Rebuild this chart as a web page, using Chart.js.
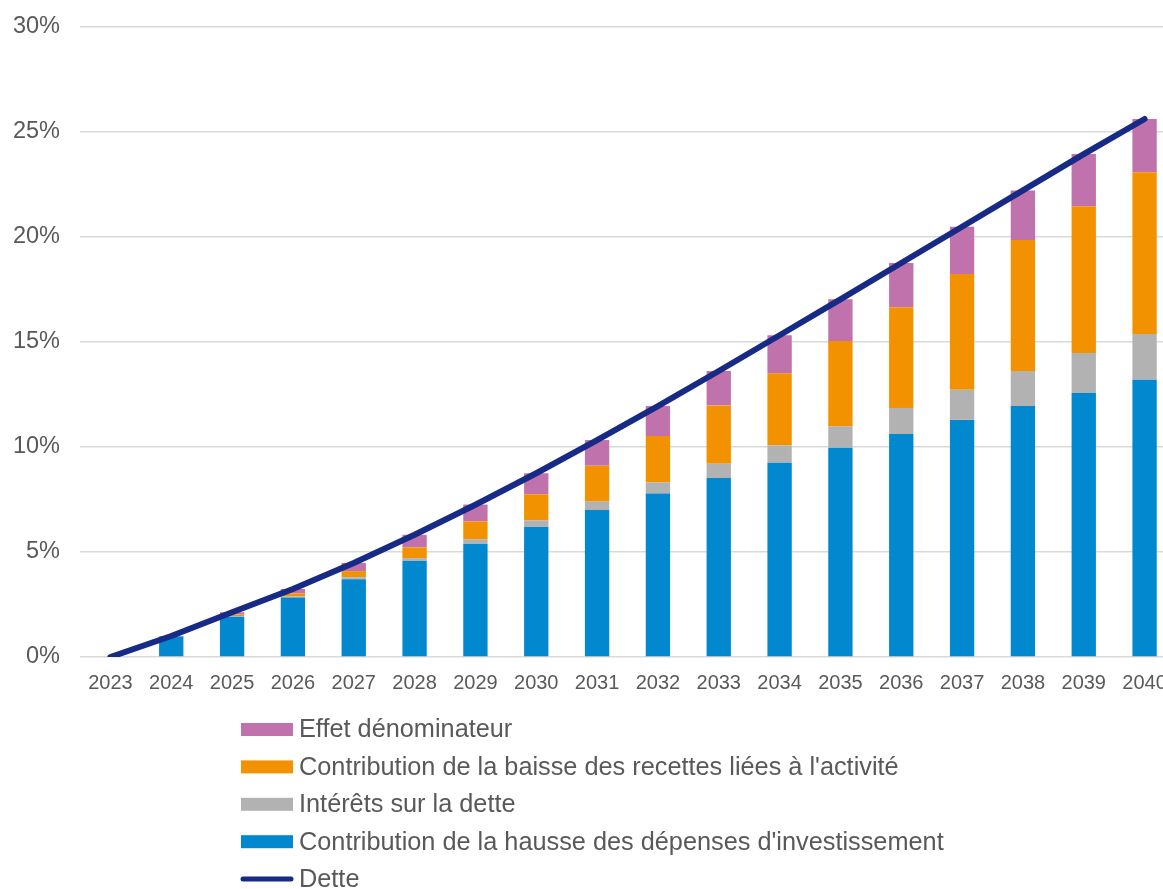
<!DOCTYPE html>
<html>
<head>
<meta charset="utf-8">
<script src="https://cdn.jsdelivr.net/npm/chart.js@4/dist/chart.umd.min.js"></script>
<style>
  html, body { margin: 0; padding: 0; overflow: hidden; background: #fff; }
  #wrap { position: relative; width: 1175px; height: 889px; }
  canvas { display: block; }
</style>
</head>
<body>
<div id="wrap"><canvas id="c" width="1175" height="889"></canvas></div>
<script>
const categories = ['2023','2024','2025','2026','2027','2028','2029','2030','2031','2032','2033','2034','2035','2036','2037','2038','2039','2040'];
const investissement = [0, 0.97, 1.92, 2.83, 3.70, 4.57, 5.38, 6.19, 7.00, 7.78, 8.52, 9.25, 9.97, 10.62, 11.29, 11.95, 12.57, 13.20];
const interets = [0, 0, 0.03, 0.05, 0.10, 0.14, 0.23, 0.32, 0.41, 0.54, 0.68, 0.83, 1.02, 1.24, 1.44, 1.67, 1.91, 2.18];
const recettes = [0, 0, 0.08, 0.15, 0.29, 0.51, 0.85, 1.24, 1.70, 2.20, 2.78, 3.43, 4.06, 4.79, 5.51, 6.24, 6.98, 7.70];
const denominateur = [0, 0.03, 0.10, 0.21, 0.39, 0.60, 0.80, 1.00, 1.22, 1.43, 1.64, 1.81, 1.98, 2.11, 2.25, 2.36, 2.49, 2.54];
const dette = [0, 1.00, 2.13, 3.24, 4.48, 5.82, 7.25, 8.75, 10.33, 11.95, 13.62, 15.32, 17.03, 18.76, 20.49, 22.22, 23.95, 25.62];
const yTicks = [0, 5, 10, 15, 20, 25, 30];

const seriesNames = {
  inv: "Contribution de la hausse des dépenses d'investissement",
  int: "Intérêts sur la dette",
  rec: "Contribution de la baisse des recettes liées à l'activité",
  den: "Effet dénominateur",
  dette: "Dette"
};

const TEXT = '#595959';
const FONT = "'Liberation Sans', Arial, sans-serif";

const legendPlugin = {
  id: 'vlegend',
  afterDraw(chart) {
    const ctx = chart.ctx;
    const ds = chart.data.datasets;
    const bars = ds.filter(d => d.type === 'bar').slice().reverse();
    const lines = ds.filter(d => d.type === 'line');
    const items = bars.concat(lines);
    const x0 = 241, boxW = 52, boxH = 13, textX = 299;
    const y0 = 729.5, step = 37.4;
    ctx.save();
    ctx.font = '25.3px ' + FONT;
    ctx.textBaseline = 'middle';
    ctx.textAlign = 'left';
    items.forEach((d, i) => {
      const y = y0 + i * step;
      if (d.type === 'bar') {
        ctx.fillStyle = d.backgroundColor;
        ctx.fillRect(x0, y - boxH / 2, boxW, boxH);
      } else {
        ctx.strokeStyle = d.borderColor;
        ctx.lineWidth = 5;
        ctx.lineCap = 'round';
        ctx.beginPath();
        ctx.moveTo(x0 + 2, y);
        ctx.lineTo(x0 + boxW - 2, y);
        ctx.stroke();
      }
      ctx.fillStyle = TEXT;
      ctx.fillText(d.label, textX, y + 1);
    });
    ctx.restore();
  }
};

const barCommon = { type: 'bar', stack: 'bars', order: 1, barPercentage: 0.4, categoryPercentage: 1.0, borderWidth: 0 };

new Chart(document.getElementById('c'), {
  data: {
    labels: categories,
    datasets: [
      Object.assign({ label: seriesNames.inv, data: investissement, backgroundColor: '#0288CF' }, barCommon),
      Object.assign({ label: seriesNames.int, data: interets, backgroundColor: '#B2B2B2' }, barCommon),
      Object.assign({ label: seriesNames.rec, data: recettes, backgroundColor: '#F39200' }, barCommon),
      Object.assign({ label: seriesNames.den, data: denominateur, backgroundColor: '#BF72AC' }, barCommon),
      { type: 'line', label: seriesNames.dette, data: dette, borderColor: '#172A85', backgroundColor: '#172A85',
        borderWidth: 6, pointRadius: 0, tension: 0, borderCapStyle: 'round', borderJoinStyle: 'round',
        order: 0, stack: 'line', fill: false }
    ]
  },
  options: {
    responsive: false,
    maintainAspectRatio: false,
    animation: false,
    layout: { padding: { left: 0, right: 0, top: 27, bottom: 192 } },
    plugins: {
      legend: { display: false },
      tooltip: { enabled: false }
    },
    scales: {
      x: {
        stacked: true,
        grid: { display: false, drawTicks: false },
        border: { display: false },
        ticks: { color: TEXT, font: { family: FONT, size: 20 }, padding: 14, maxRotation: 0, autoSkip: false },
        afterFit(scale) { scale.height = 40; scale.paddingLeft = 0; scale.paddingRight = 0; }
      },
      y: {
        stacked: true,
        min: 0, max: 30,
        afterBuildTicks(scale) { scale.ticks = yTicks.map(v => ({ value: v })); },
        grid: { color: '#D9D9D9', lineWidth: 1.5, drawTicks: false },
        border: { display: false },
        ticks: { color: TEXT, font: { family: FONT, size: 23.5 }, padding: 20, callback: v => v + '%' },
        afterFit(scale) { scale.width = 80; scale.paddingTop = 0; scale.paddingBottom = 0; }
      }
    }
  },
  plugins: [legendPlugin]
});
</script>
</body>
</html>
